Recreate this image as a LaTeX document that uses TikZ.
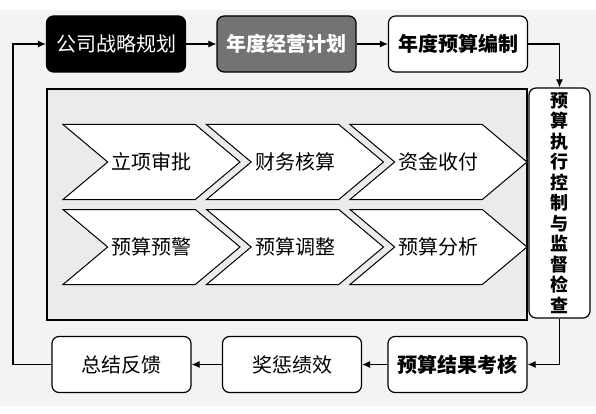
\documentclass[tikz,border=0pt]{standalone}
\usepackage{fontspec}
\usepackage{xcolor}
\newfontfamily\cjk{Noto Sans CJK SC}
\definecolor{bggray}{RGB}{243, 243, 243}
\definecolor{panelgray}{RGB}{235, 235, 235}
\definecolor{plangray}{RGB}{115, 115, 115}
\usetikzlibrary{shapes, shapes.symbols, arrows.meta, positioning}

\begin{document}
\begin{tikzpicture}[x=1pt, y=-1pt,
    stepbox/.style={rectangle, draw=black, line width=1.2pt, rounded corners=7pt, fill=white, minimum width=139pt, minimum height=56pt, inner sep=0pt, font=\cjk\fontsize{20}{22}\selectfont},
    boldbox/.style={stepbox, font=\cjk\bfseries\fontsize{20}{22}\selectfont},
    chevron/.style={signal, signal from=west, signal to=east, signal pointer angle=80, draw=black, line width=1pt, fill=white, minimum width=177pt, minimum height=75pt, inner sep=0pt, font=\cjk\fontsize{20}{22}\selectfont},
    flow/.style={-{Latex[length=8pt, width=7pt]}, line width=1.1pt}
]
    \useasboundingbox (0, 0) rectangle (596, 414);
    \fill[white] (0, 0) rectangle (596, 414);
    \fill[bggray] (0, 10) rectangle (596, 406);

    % Planning row
    \node[stepbox, fill=black, text=white] (strat) at (116, 44) {公司战略规划};
    \node[boldbox, fill=plangray, text=white] (plan) at (286.5, 44) {年度经营计划};
    \node[boldbox] (budget) at (458, 44) {年度预算编制};

    % Execution panel
    \node[rectangle, draw=black, line width=1.2pt, fill=panelgray, minimum width=480pt, minimum height=231pt, inner sep=0pt] (panel) at (287, 204.5) {};
    \node[chevron] (c1) at (151.5, 162) {立项审批};
    \node[chevron] (c2) at (295, 162) {财务核算};
    \node[chevron] (c3) at (438.5, 162) {资金收付};
    \node[chevron] (c4) at (151.5, 247) {预算预警};
    \node[chevron] (c5) at (295, 247) {预算调整};
    \node[chevron] (c6) at (438.5, 247) {预算分析};

    % Control
    \node[boldbox, minimum width=61pt, minimum height=230pt, align=center, font=\cjk\bfseries\fontsize{18}{20.5}\selectfont] (exec) at (559.5, 203)
        {预\\算\\执\\行\\控\\制\\与\\监\\督\\检\\查};

    % Evaluation row
    \node[boldbox] (result) at (457.5, 364.5) {预算结果考核};
    \node[stepbox] (reward) at (292, 364.5) {奖惩绩效};
    \node[stepbox] (summary) at (121.5, 364.5) {总结反馈};

    % Connectors
    \draw[flow] (strat) -- (plan);
    \draw[flow] (plan) -- (budget);
    \draw[flow] (budget.east) -| (exec.north);
    \draw[flow] (exec.south) |- (result.east);
    \draw[flow] (result) -- (reward);
    \draw[flow] (reward) -- (summary);
    \coordinate (loop) at (13, 364.5);
    \draw[flow] (summary.west) -- (loop) |- (strat.west);
\end{tikzpicture}
\end{document}
